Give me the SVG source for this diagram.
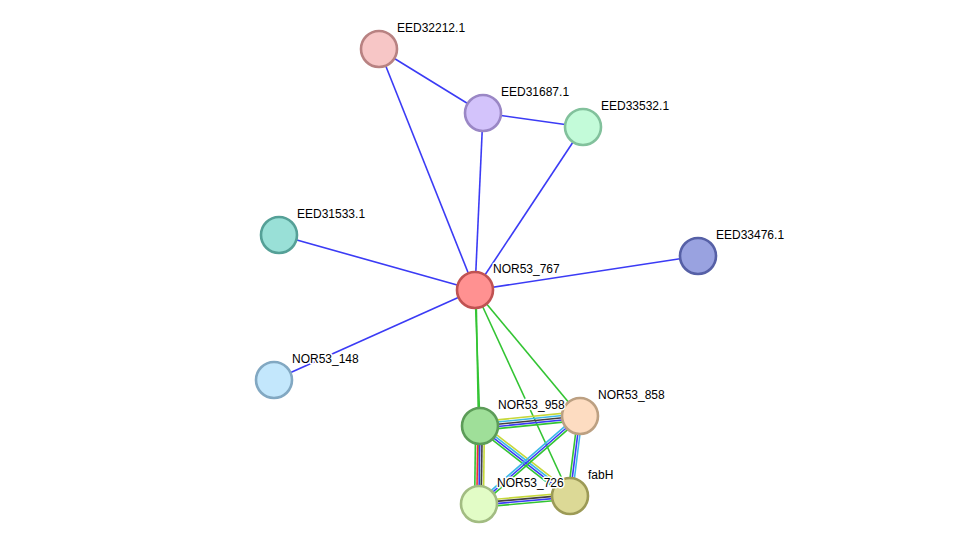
<svg xmlns="http://www.w3.org/2000/svg" width="976" height="550" viewBox="0 0 976 550">
<style>
.e{stroke-width:1.6;fill:none}
.b{stroke:#3b3bf5}.g{stroke:#33c433}.y{stroke:#c6d83a}.c{stroke:#3cb8e8}.k{stroke:#404040}.r{stroke:#f03030}
.n{stroke-width:2.6}
text{font-family:"Liberation Sans",Arial,sans-serif;font-size:12px;fill:#000;stroke:#fff;stroke-width:3;paint-order:stroke;stroke-linejoin:round}
</style>
<rect width="976" height="550" fill="#fff"/>
<g id="edges">
<line class="e b" x1="475" y1="290" x2="379" y2="49"/>
<line class="e b" x1="475" y1="290" x2="483" y2="113"/>
<line class="e b" x1="475" y1="290" x2="583" y2="127"/>
<line class="e b" x1="475" y1="290" x2="279" y2="235"/>
<line class="e b" x1="475" y1="290" x2="698" y2="256"/>
<line class="e b" x1="475" y1="290" x2="274" y2="380"/>
<line class="e b" x1="379" y1="49" x2="483" y2="113"/>
<line class="e b" x1="483" y1="113" x2="583" y2="127"/>
<line class="e g" x1="475" y1="290" x2="480" y2="426"/>
<line class="e g" x1="476" y1="290" x2="480" y2="504"/>
<line class="e g" x1="475" y1="290" x2="580" y2="416"/>
<line class="e g" x1="475" y1="290" x2="570" y2="496"/>
<g transform="translate(480,426) rotate(-5.71)">
<line class="e y" x1="0" y1="-4.4" x2="100.5" y2="-4.4"/>
<line class="e c" x1="0" y1="-2.2" x2="100.5" y2="-2.2"/>
<line class="e k" x1="0" y1="0" x2="100.5" y2="0"/>
<line class="e b" x1="0" y1="2.2" x2="100.5" y2="2.2"/>
<line class="e g" x1="0" y1="4.4" x2="100.5" y2="4.4"/>
</g>
<g transform="translate(480,426) rotate(90.73)">
<line class="e g" x1="0" y1="4.4" x2="78" y2="4.4"/>
<line class="e r" x1="0" y1="2.2" x2="78" y2="2.2"/>
<line class="e b" x1="0" y1="0" x2="78" y2="0"/>
<line class="e k" x1="0" y1="-2.2" x2="78" y2="-2.2"/>
<line class="e y" x1="0" y1="-4.4" x2="78" y2="-4.4"/>
</g>
<g transform="translate(480,426) rotate(37.87)">
<line class="e g" x1="0" y1="3.3" x2="114" y2="3.3"/>
<line class="e b" x1="0" y1="1.1" x2="114" y2="1.1"/>
<line class="e c" x1="0" y1="-1.1" x2="114" y2="-1.1"/>
<line class="e y" x1="0" y1="-3.3" x2="114" y2="-3.3"/>
</g>
<g transform="translate(580,416) rotate(138.93)">
<line class="e g" x1="0" y1="-2.2" x2="134" y2="-2.2"/>
<line class="e b" x1="0" y1="0" x2="134" y2="0"/>
<line class="e c" x1="0" y1="2.2" x2="134" y2="2.2"/>
</g>
<g transform="translate(580,416) rotate(97.13)">
<line class="e g" x1="0" y1="2.2" x2="80.6" y2="2.2"/>
<line class="e b" x1="0" y1="0" x2="80.6" y2="0"/>
<line class="e c" x1="0" y1="-2.2" x2="80.6" y2="-2.2"/>
</g>
<g transform="translate(479,504) rotate(-5.02)">
<line class="e y" x1="0" y1="-3.3" x2="91.4" y2="-3.3"/>
<line class="e k" x1="0" y1="-1.1" x2="91.4" y2="-1.1"/>
<line class="e b" x1="0" y1="1.1" x2="91.4" y2="1.1"/>
<line class="e g" x1="0" y1="3.3" x2="91.4" y2="3.3"/>
</g>
</g>
<g id="EED32212.1"><circle class="n" cx="379" cy="49" r="18" fill="#f7c6c6" stroke="#b88282"/><text x="397" y="32">EED32212.1</text></g>
<g id="EED31687.1"><circle class="n" cx="483" cy="113" r="18" fill="#d3c3fb" stroke="#9a87c5"/><text x="501" y="96">EED31687.1</text></g>
<g id="EED33532.1"><circle class="n" cx="583" cy="127" r="18" fill="#c3fbd9" stroke="#82c19c"/><text x="601" y="110">EED33532.1</text></g>
<g id="EED31533.1"><circle class="n" cx="279" cy="235" r="18" fill="#99e0d7" stroke="#55a097"/><text x="297" y="218">EED31533.1</text></g>
<g id="EED33476.1"><circle class="n" cx="698" cy="256" r="18" fill="#99a2e0" stroke="#5660a6"/><text x="716" y="239">EED33476.1</text></g>
<g id="NOR53_767"><circle class="n" cx="475" cy="290" r="18" fill="#ff9191" stroke="#c05252"/><text x="493" y="273">NOR53_767</text></g>
<g id="NOR53_148"><circle class="n" cx="274" cy="380" r="18" fill="#c3e7fc" stroke="#82a8c2"/><text x="292" y="363">NOR53_148</text></g>
<g id="fabH"><circle class="n" cx="570" cy="496" r="18" fill="#dcd996" stroke="#9c9a56"/><text x="588" y="479">fabH</text></g>
<g id="NOR53_858"><circle class="n" cx="580" cy="416" r="18" fill="#fddcc1" stroke="#bca082"/><text x="598" y="399">NOR53_858</text></g>
<g id="NOR53_726"><circle class="n" cx="479" cy="504" r="18" fill="#e2fcc6" stroke="#a2bc82"/><text x="497" y="487">NOR53_726</text></g>
<g id="NOR53_958"><circle class="n" cx="480" cy="426" r="18" fill="#9fdf99" stroke="#5c9c58"/><text x="498" y="409">NOR53_958</text></g>
</svg>
